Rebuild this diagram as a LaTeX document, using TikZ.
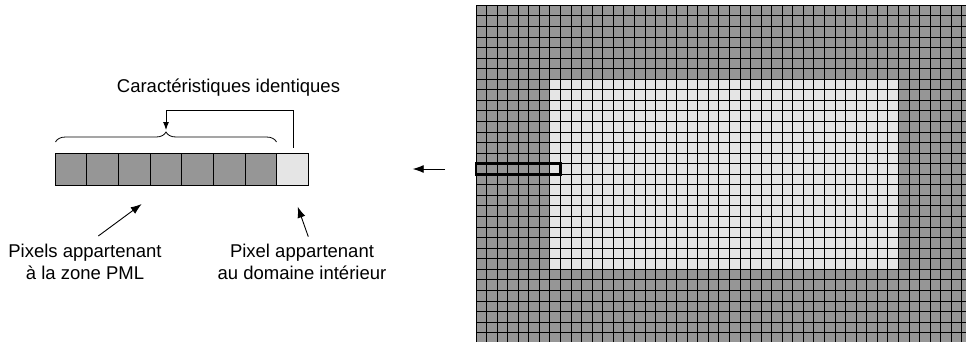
\documentclass[tikz,border=0pt]{standalone}
\usepackage{fontspec}
\setmainfont{Liberation Sans}
\usetikzlibrary{decorations.pathreplacing,arrows.meta}
\definecolor{pmldark}{RGB}{150,150,150}
\definecolor{innerlight}{RGB}{229,229,229}
\tikzset{
  cell/.style={draw=black, line width=0.8pt, minimum size=31.67pt, inner sep=0pt, outer sep=0pt},
  darkcell/.style={cell, fill=pmldark},
  lightcell/.style={cell, fill=innerlight},
  conn/.style={draw=black, line width=0.9pt},
  bigtip/.style={-{Latex[length=11pt,width=8pt]}},
  smalltip/.style={-{Latex[length=8pt,width=6pt]}},
  lbl/.style={font=\fontsize{18.5}{22.5}\selectfont, align=center, inner sep=0pt, text=black},
  gridline/.style={draw=black, line width=0.9pt},
}
\begin{document}
\begin{tikzpicture}[x=1pt,y=-1pt]
\useasboundingbox (0,0) rectangle (966,341);
% ---------- grid (right) ----------
\begin{scope}
  \clip (470,0) rectangle (966,341);
  \fill[pmldark] (476,5.3) rectangle ({476+47*10.56},{5.3+32*10.56});
  \fill[innerlight] ({476+7*10.56},{5.3+7*10.56}) rectangle ({476+40*10.56},{5.3+25*10.56});
  \foreach \i in {0,...,47}
    \draw[gridline] ({476+\i*10.56},5.3) -- ({476+\i*10.56},{5.3+32*10.56});
  \foreach \j in {0,...,32}
    \draw[gridline] (476,{5.3+\j*10.56}) -- ({476+47*10.56},{5.3+\j*10.56});
  \draw[line width=2.6pt] (476,{5.3+15*10.56}) rectangle ({476+8*10.56},{5.3+16*10.56});
\end{scope}
\coordinate (gridstrip) at (445,169);
\coordinate (leftend) at (412.7,169);
\draw[conn,bigtip] (gridstrip) -- (leftend);
% ---------- strip (left) ----------
\foreach \k in {1,...,7}
  \node[darkcell] (s\k) at ({55+31.67*(\k-0.5)},169.2) {};
\node[lightcell] (s8) at ({55+31.67*7.5},169.2) {};
% brace
\draw[line width=0.8pt, decorate, decoration={brace, amplitude=10pt}] (55.5,142) -- (276.5,142);
\coordinate (bracetip) at (166,130);
\coordinate (ret) at (166,110);
\coordinate (lightup) at (293.3,147.5);
\draw[conn,smalltip] (lightup) |- (ret) -- (bracetip);
\node[lbl, anchor=base] (title) at (228.5,92.6) {Caractéristiques identiques};
% labels
\node[lbl] (pml) at (85,262) {Pixels appartenant\\à la zone PML};
\node[lbl] (inner) at (302,262) {Pixel appartenant\\au domaine intérieur};
\coordinate (pmlstart) at (98.3,236);
\coordinate (pmltip) at (141.7,204);
\coordinate (innerstart) at (308.3,236.7);
\coordinate (innertip) at (297.7,206.7);
\draw[conn,bigtip] (pmlstart) -- (pmltip);
\draw[conn,bigtip] (innerstart) -- (innertip);
\end{tikzpicture}
\end{document}
